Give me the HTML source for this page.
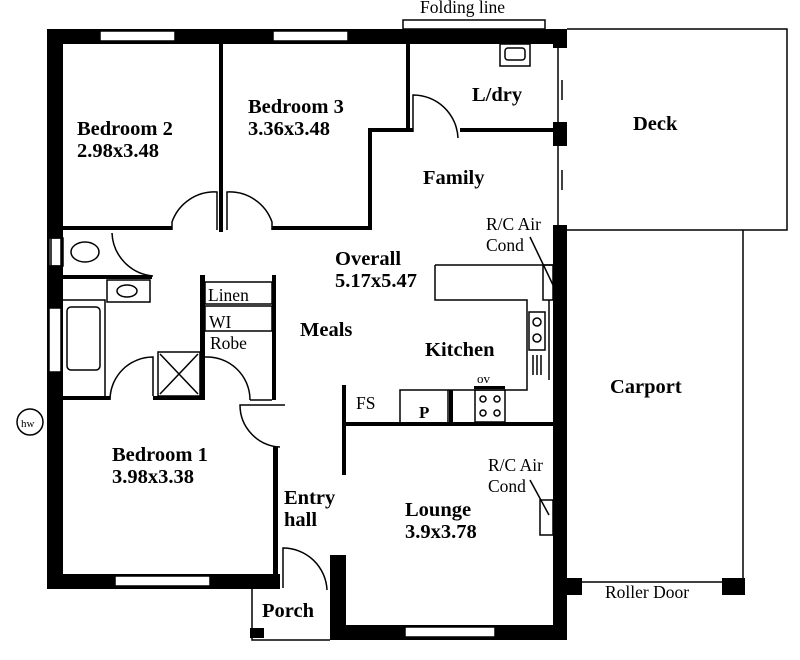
<!DOCTYPE html>
<html><head><meta charset="utf-8"><style>
body{margin:0;background:#fff}
svg{display:block}
.b{font-family:"Liberation Serif",serif;font-weight:bold;font-size:20.5px;fill:#000}
.s{font-family:"Liberation Serif",serif;font-size:17.5px;fill:#000}
</style></head><body>
<svg width="800" height="660" viewBox="0 0 800 660" xmlns="http://www.w3.org/2000/svg">
<g fill="#000">
<rect x="47" y="29" width="520" height="15"/>
<rect x="47" y="29" width="16" height="560"/>
<rect x="47" y="574" width="233" height="15"/>
<rect x="330" y="555" width="15" height="85"/>
<rect x="330" y="625" width="237" height="15"/>
<rect x="553" y="225" width="14" height="415"/>
<rect x="553" y="122" width="14" height="24"/>
<rect x="553" y="29" width="14" height="19"/>
<rect x="567" y="578" width="15" height="17"/>
<rect x="722" y="578" width="23" height="17"/>
<rect x="250" y="628" width="14" height="10"/>
<rect x="219" y="44" width="4" height="188"/>
<rect x="62" y="226" width="110" height="4"/>
<rect x="272" y="226" width="100" height="4"/>
<rect x="368" y="128" width="4" height="102"/>
<rect x="368" y="128" width="45" height="4"/>
<rect x="460" y="128" width="93" height="4"/>
<rect x="406" y="44" width="4" height="88"/>
<rect x="62" y="275" width="90" height="4"/>
<rect x="62" y="396" width="48" height="4"/>
<rect x="153" y="396" width="52" height="4"/>
<rect x="200" y="275" width="5" height="125"/>
<rect x="272" y="275" width="4" height="125"/>
<rect x="273" y="447" width="5" height="130"/>
<rect x="342" y="385" width="4" height="90"/>
<rect x="342" y="422" width="211" height="4"/>
<rect x="342" y="555" width="4" height="70"/>
<rect x="449" y="390" width="4" height="34"/>
<rect x="474" y="386" width="31" height="3"/>
</g>
<g fill="none" stroke="#000" stroke-width="1.5">
<rect x="100" y="31" width="75" height="10" fill="#fff"/>
<rect x="273" y="31" width="75" height="10" fill="#fff"/>
<rect x="49" y="238" width="12" height="28" fill="#fff"/>
<rect x="49" y="308" width="12" height="64" fill="#fff"/>
<rect x="115" y="576" width="95" height="10" fill="#fff"/>
<rect x="405" y="627" width="90" height="10" fill="#fff"/>
<rect x="403" y="20" width="142" height="9"/>
<path d="M567 29 H787 V230 H567"/>
<path d="M743 230 V595"/>
<path d="M582 582 H722"/>
<path d="M558 48 V122 M558 146 V225 M562 80 V100 M562 170 V190"/>
<path d="M252 588 V640 H330"/>
<path d="M172 230 V222 A45 45 0 0 1 217 192 V230"/>
<path d="M272 230 V222 A45 45 0 0 0 227 192 V230"/>
<path d="M413 132 V95 A45 45 0 0 1 458 138"/>
<path d="M112 233 A45 45 0 0 0 153 276"/>
<path d="M110 400 A43 43 0 0 1 153 357 V396"/>
<path d="M205 357 A43 43 0 0 1 250 400"/>
<path d="M280 447 A42 42 0 0 1 240 405 H285"/>
<path d="M283 588 V548 A44 44 0 0 1 327 590"/>
<rect x="51" y="238" width="12" height="28"/>
<ellipse cx="85" cy="252" rx="14" ry="10"/>
<rect x="107" y="280" width="43" height="22"/>
<ellipse cx="127" cy="291" rx="10" ry="6"/>
<rect x="67" y="307" width="33" height="63" rx="4"/>
<path d="M62 300 H105 V396"/>
<rect x="158" y="352" width="42" height="44"/>
<path d="M160 354 L198 394 M198 354 L160 394"/>
<rect x="205" y="282" width="67" height="22"/>
<rect x="205" y="306" width="67" height="25"/>
<path d="M250 400 H272"/>
<rect x="500" y="44" width="30" height="22"/>
<rect x="505" y="48" width="20" height="12" rx="3"/>
<path d="M435 265 H553 M435 265 V300 H527 V390 H400 V422 M448 422 V390"/>
<rect x="529" y="312" width="16" height="38"/>
<circle cx="537" cy="322" r="4"/><circle cx="537" cy="338" r="4"/>
<path d="M533 355 V375 M537 355 V375 M541 355 V375"/>
<path d="M549 300 V380"/>
<rect x="475" y="390" width="30" height="32"/>
<circle cx="483" cy="399" r="3"/><circle cx="497" cy="399" r="3"/>
<circle cx="483" cy="413" r="3"/><circle cx="497" cy="413" r="3"/>
<rect x="543" y="265" width="10" height="35"/>
<path d="M530 237 L553 285"/>
<rect x="540" y="500" width="13" height="35"/>
<path d="M530 480 L549 515"/>
<circle cx="30" cy="422" r="13"/>
</g>
<text class="s" x="420" y="13">Folding line</text>
<text class="b" x="77" y="135">Bedroom 2</text>
<text class="b" x="77" y="157">2.98x3.48</text>
<text class="b" x="248" y="113">Bedroom 3</text>
<text class="b" x="248" y="135">3.36x3.48</text>
<text class="b" x="472" y="101">L/dry</text>
<text class="b" x="633" y="130">Deck</text>
<text class="b" x="423" y="184">Family</text>
<text class="s" x="486" y="230">R/C Air</text>
<text class="s" x="486" y="251">Cond</text>
<text class="b" x="335" y="265">Overall</text>
<text class="b" x="335" y="287">5.17x5.47</text>
<text class="s" x="208" y="301">Linen</text>
<text class="s" x="209" y="328">WI</text>
<text class="s" x="210" y="349">Robe</text>
<text class="b" x="300" y="336">Meals</text>
<text class="b" x="425" y="356">Kitchen</text>
<text class="s" x="477" y="383" style="font-size:13px">ov</text>
<text class="s" x="356" y="409">FS</text>
<text class="b" x="419" y="418" style="font-size:17px">P</text>
<text class="b" x="610" y="393">Carport</text>
<text class="s" x="21" y="427" style="font-size:11px">hw</text>
<text class="b" x="112" y="461">Bedroom 1</text>
<text class="b" x="112" y="483">3.98x3.38</text>
<text class="s" x="488" y="471">R/C Air</text>
<text class="s" x="488" y="492">Cond</text>
<text class="b" x="284" y="504">Entry</text>
<text class="b" x="284" y="526">hall</text>
<text class="b" x="405" y="516">Lounge</text>
<text class="b" x="405" y="538">3.9x3.78</text>
<text class="s" x="605" y="598">Roller Door</text>
<text class="b" x="262" y="617">Porch</text>
</svg>
</body></html>
